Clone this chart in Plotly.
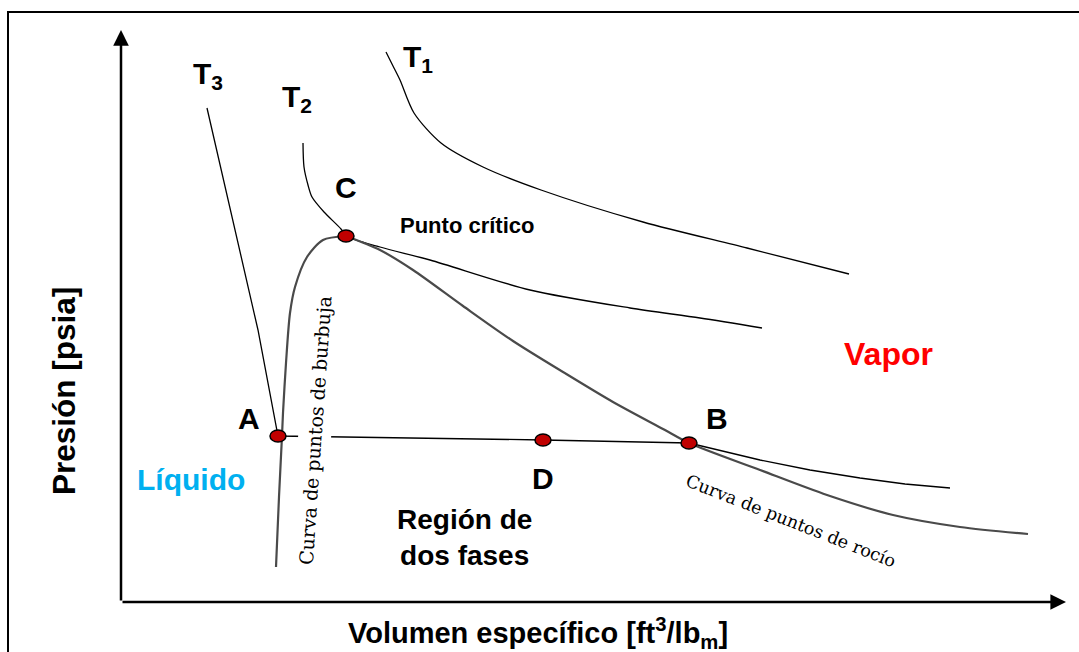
import plotly.graph_objects as go

# Diagrama P-v (unidades arbitrarias: v = volumen, p = presion)
t1_v = [265, 272, 279, 293, 320, 362, 420, 522, 626, 728]
t1_p = [550, 536, 522, 489, 459, 435, 412, 380, 354, 328]

t2_v = [182, 183, 187, 191, 203, 220, 225, 259, 309, 409, 509, 579, 641]
t2_p = [459, 435, 417, 405, 390, 373, 366, 355, 342, 312, 294, 284, 274]

t3_v = [86, 114, 137, 157, 422, 568, 604, 639, 689, 739, 784, 829]
t3_p = [494, 372, 272, 166, 162, 159, 150, 142, 132, 124, 118, 114]

burbuja_v = [155, 158, 161, 162, 165, 169, 174, 186, 202, 225]
burbuja_p = [35, 105, 166, 189, 239, 289, 315, 345, 362, 366]

rocio_v = [225, 259, 292, 342, 392, 442, 492, 542, 568, 639, 706, 772, 839, 907]
rocio_p = [366, 352, 332, 296, 261, 230, 200, 173, 159, 132, 107, 87, 75, 68]

puntos = ["A", "B", "C", "D"]
puntos_v = [157, 568, 225, 422]
puntos_p = [166, 159, 366, 162]
# desplazamiento de cada letra respecto a su punto (px)
puntos_dx = [-29, 28, 0, 0]
puntos_dy = [18, 25, 49, -38]

FONT = "Liberation Sans"
SERIF = "DejaVu Serif"

fig = go.Figure()

for v, p in [(t1_v, t1_p), (t2_v, t2_p)]:
    fig.add_trace(go.Scatter(x=v, y=p, mode="lines",
                             line=dict(color="black", width=1.3, shape="spline", smoothing=0.8)))
fig.add_trace(go.Scatter(x=t3_v, y=t3_p, mode="lines",
                         line=dict(color="black", width=1.3)))
for v, p in [(burbuja_v, burbuja_p), (rocio_v, rocio_p)]:
    fig.add_trace(go.Scatter(x=v, y=p, mode="lines",
                             line=dict(color="#4a4a4a", width=2.2, shape="spline", smoothing=0.8)))

shapes = [
    dict(type="rect", xref="paper", yref="paper", x0=8 / 1079, x1=1.02,
         y0=-0.02, y1=1 - 12 / 652, line=dict(color="black", width=2)),
]
for v, p in zip(puntos_v, puntos_p):
    shapes.append(dict(type="circle", xref="x", yref="y",
                       xsizemode="pixel", ysizemode="pixel",
                       xanchor=v, yanchor=p, x0=-8, x1=8, y0=-6, y1=6,
                       fillcolor="#c00000", line=dict(color="black", width=1.5)))

annotations = []


def label(text, x, y, size, color="black", family=FONT, bold=True, **kw):
    annotations.append(dict(text=text, x=x, y=y, xref="x", yref="y", showarrow=False,
                            font=dict(family=family, size=size, color=color,
                                      weight="bold" if bold else "normal"), **kw))


# ejes con flecha
for tip in [(0, 572), (945, 0)]:
    annotations.append(dict(text="", x=tip[0], y=tip[1], ax=0, ay=0, xref="x", yref="y",
                            axref="x", ayref="y", showarrow=True, arrowhead=2,
                            arrowwidth=2.5, arrowsize=1.25, arrowcolor="black"))

for name, v, p, dx, dy in zip(puntos, puntos_v, puntos_p, puntos_dx, puntos_dy):
    label(name, v, p, 30, xshift=dx, yshift=dy)

label("T<sub>1</sub>", 297, 544, 30)
label("T<sub>2</sub>", 176, 504, 30)
label("T<sub>3</sub>", 87, 527, 30)
label("Punto crítico", 346, 377, 22)
label("Vapor", 767, 248, 32, color="#ff0000")
label("Líquido", 70, 123, 30, color="#00b0f0")
label("Región de<br>dos fases", 343, 65, 28)
label("Curva de puntos de burbuja", 194, 171, 19, family=SERIF, bold=False,
      textangle=-86, bgcolor="white", borderpad=5)
label("Curva de puntos de rocío", 670, 81, 17.5, family=SERIF, bold=False,
      textangle=21.5, bgcolor="white")
label("Volumen específico [ft<sup>3</sup>/lb<sub>m</sub>]", 417, -31, 29)
label("Presión [psia]", -57, 211, 31.5, textangle=-90)

fig.update_layout(
    width=1079, height=652,
    margin=dict(l=0, r=0, t=0, b=0),
    paper_bgcolor="white", plot_bgcolor="white",
    showlegend=False, hovermode=False,
    xaxis=dict(range=[-121, 958], visible=False, fixedrange=True),
    yaxis=dict(range=[-50, 602], visible=False, fixedrange=True),
    shapes=shapes, annotations=annotations,
)

fig.write_html("out.html", config={"displayModeBar": False},
               post_script="document.body.style.margin = '0';")
